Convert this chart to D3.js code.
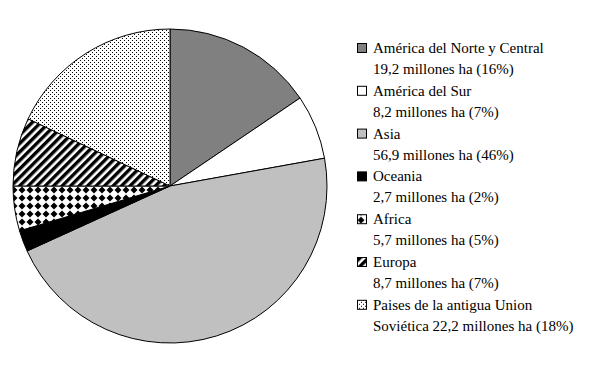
<!DOCTYPE html>
<html>
<head>
<meta charset="utf-8">
<script src="https://cdn.jsdelivr.net/npm/d3@7"></script>
<style>
  body { margin: 0; background: #fff; }
  svg { display: block; }
  .legend text { font-family: "Liberation Serif", "Times New Roman", Times, serif; font-size: 15px; fill: #000; }
</style>
</head>
<body>
<svg id="chart" width="595" height="373"></svg>
<script>
const regions = [
  "América del Norte y Central",
  "América del Sur",
  "Asia",
  "Oceania",
  "Africa",
  "Europa",
  "Paises de la antigua Union"
];
const areaHa = [19.2, 8.2, 56.9, 2.7, 5.7, 8.7, 22.2];
const secondLines = [
  "19,2 millones ha (16%)",
  "8,2 millones ha (7%)",
  "56,9 millones ha (46%)",
  "2,7 millones ha (2%)",
  "5,7 millones ha (5%)",
  "8,7 millones ha (7%)",
  "Soviética 22,2 millones ha (18%)"
];
const fills = ["#808080", "#ffffff", "#c0c0c0", "#000000", "url(#diamonds)", "url(#stripes)", "url(#dots)"];

const width = 595, height = 373;
const cx = 170, cy = 186, radius = 157;

const svg = d3.select("#chart");
const defs = svg.append("defs");

// diamond grid (Africa)
const diamonds = defs.append("pattern")
  .attr("id", "diamonds")
  .attr("patternUnits", "userSpaceOnUse")
  .attr("width", 8).attr("height", 8);
diamonds.append("rect").attr("width", 8).attr("height", 8).attr("fill", "#fff");
diamonds.append("path").attr("d", "M4,0.5 L7.5,4 L4,7.5 L0.5,4 Z").attr("fill", "#000");

// diagonal stripes (Europa)
const stripes = defs.append("pattern")
  .attr("id", "stripes")
  .attr("patternUnits", "userSpaceOnUse")
  .attr("width", 6).attr("height", 6)
  .attr("patternTransform", "rotate(45)");
stripes.append("rect").attr("width", 6).attr("height", 6).attr("fill", "#fff");
stripes.append("rect").attr("width", 3.4).attr("height", 6).attr("fill", "#000");

// sparse dots (antigua Union Sovietica)
const dots = defs.append("pattern")
  .attr("id", "dots")
  .attr("patternUnits", "userSpaceOnUse")
  .attr("width", 4).attr("height", 4);
dots.append("rect").attr("width", 4).attr("height", 4).attr("fill", "#fff");
dots.append("rect").attr("x", 0).attr("y", 0).attr("width", 1).attr("height", 1).attr("fill", "#000");
dots.append("rect").attr("x", 2).attr("y", 2).attr("width", 1).attr("height", 1).attr("fill", "#000");

const data = regions.map((r, i) => ({ region: r, value: areaHa[i], fill: fills[i], line2: secondLines[i] }));

const pie = d3.pie().value(d => d.value).sort(null);
const arc = d3.arc().innerRadius(0).outerRadius(radius);

const g = svg.append("g").attr("transform", `translate(${cx},${cy})`);
g.selectAll("path")
  .data(pie(data))
  .join("path")
  .attr("d", arc)
  .attr("fill", d => d.data.fill)
  .attr("stroke", "#000")
  .attr("stroke-width", 1);

// legend
const legendY = d3.scaleLinear().domain([0, 1]).range([53, 95.8]);
const legend = svg.append("g").attr("class", "legend");

const items = legend.selectAll("g")
  .data(data)
  .join("g")
  .attr("transform", (d, i) => `translate(357,${legendY(i)})`);

items.append("rect")
  .attr("x", 0.5).attr("y", -9.5)
  .attr("width", 9).attr("height", 9)
  .attr("fill", d => d.fill)
  .attr("stroke", "#000");

items.append("text")
  .attr("x", 16).attr("y", 0)
  .text(d => d.region);

items.append("text")
  .attr("x", 16).attr("y", 21)
  .text(d => d.line2);
</script>
</body>
</html>
